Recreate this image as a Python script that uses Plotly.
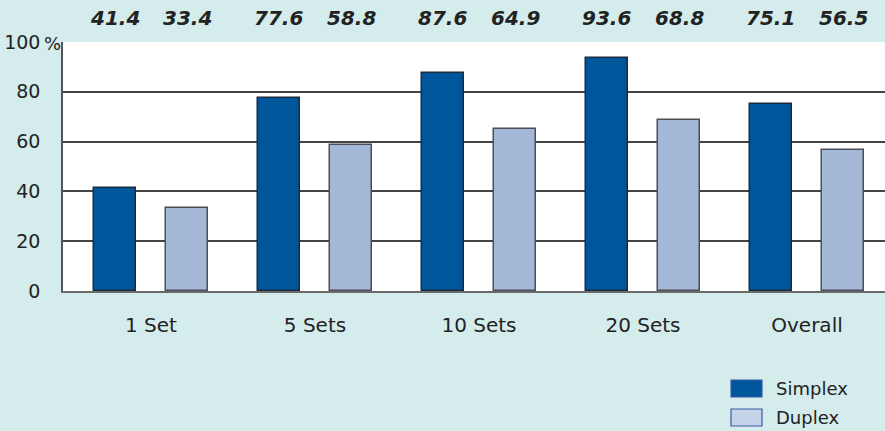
import plotly.graph_objects as go

categories = ["1 Set", "5 Sets", "10 Sets", "20 Sets", "Overall"]
simplex = [41.4, 77.6, 87.6, 93.6, 75.1]
duplex = [33.4, 58.8, 64.9, 68.8, 56.5]
y_ticks = [0, 20, 40, 60, 80, 100]
y_ticklabels = ["0", "20", "40", "60", "80", "100"]

W, H = 885, 431
L, R, T, B = 63, 0, 42, 140
pw = W - L - R
ph = H - T - B

BG = "#d4ecec"
C_S = "#00569a"
C_D = "#a4b9d8"

xs = list(range(len(categories)))
bw = 0.256
off_s = -0.3476
off_d = 0.0915

fig = go.Figure()
fig.add_trace(go.Bar(x=xs, y=simplex, name="Simplex", width=bw, offset=off_s,
                     marker=dict(color=C_S, line=dict(color="#1c2b3d", width=1.5)),
                     showlegend=False, hoverinfo="skip"))
fig.add_trace(go.Bar(x=xs, y=duplex, name="Duplex", width=bw, offset=off_d,
                     marker=dict(color=C_D, line=dict(color="#4d4d57", width=1.5)),
                     showlegend=False, hoverinfo="skip"))


def px_x(x):
    return (x - L) / pw


def px_y(y):
    return (T + ph - y) / ph


annotations = []
for i in xs:
    for v, off in ((simplex[i], off_s), (duplex[i], off_d)):
        annotations.append(dict(x=i + off + bw / 2, y=px_y(18), xref="x", yref="paper",
                                text=f"<b><i>{v:.1f}</i></b>", showarrow=False,
                                font=dict(family="DejaVu Sans", size=20, color="#222222"),
                                xanchor="center", yanchor="middle"))

# percent sign after 100
annotations.append(dict(x=px_x(43), y=px_y(43), xref="paper", yref="paper", text="%", showarrow=False,
                        xanchor="left", yanchor="middle", borderpad=0,
                        font=dict(family="DejaVu Sans", size=18, color="#222222")))

# manual legend
legend_items = [("Simplex", C_S, "#3a5aa8", 380), ("Duplex", "#c5d3e8", "#3a5aa8", 409)]
shapes = []
for name, fill, border, top in legend_items:
    shapes.append(dict(type="rect", xref="paper", yref="paper",
                       x0=px_x(731), x1=px_x(762), y0=px_y(top), y1=px_y(top + 17),
                       fillcolor=fill, line=dict(color=border, width=1.2)))
    annotations.append(dict(x=px_x(774), y=px_y(top + 8.5), xref="paper", yref="paper",
                            text=name, showarrow=False, xanchor="left", yanchor="middle",
                            font=dict(family="DejaVu Sans", size=18, color="#222222")))

fig.update_layout(
    width=W, height=H,
    margin=dict(l=L, r=R, t=T, b=B, pad=0),
    paper_bgcolor=BG, plot_bgcolor="white",
    bargap=0,
    hovermode=False,
    annotations=annotations, shapes=shapes,
    xaxis=dict(range=[-0.5366, 4.4756], tickvals=xs, ticktext=categories,
               showgrid=False, zeroline=False, showline=True, linecolor="#6a6a6a", linewidth=1.5,
               ticks="", ticklabelstandoff=15, fixedrange=True,
               tickfont=dict(family="DejaVu Sans", size=20, color="#222222")),
    yaxis=dict(range=[0, 100], tickvals=y_ticks, ticktext=y_ticklabels,
               showgrid=True, gridcolor="#444444", gridwidth=1.5, zeroline=False,
               showline=True, linecolor="#555555", linewidth=1.5,
               ticks="", ticklabelstandoff=17, fixedrange=True,
               tickfont=dict(family="DejaVu Sans", size=19, color="#222222")),
)

fig.write_html("out.html", config={"displayModeBar": False},
               post_script="document.body.style.margin='0';document.body.style.background='%s';" % BG)
